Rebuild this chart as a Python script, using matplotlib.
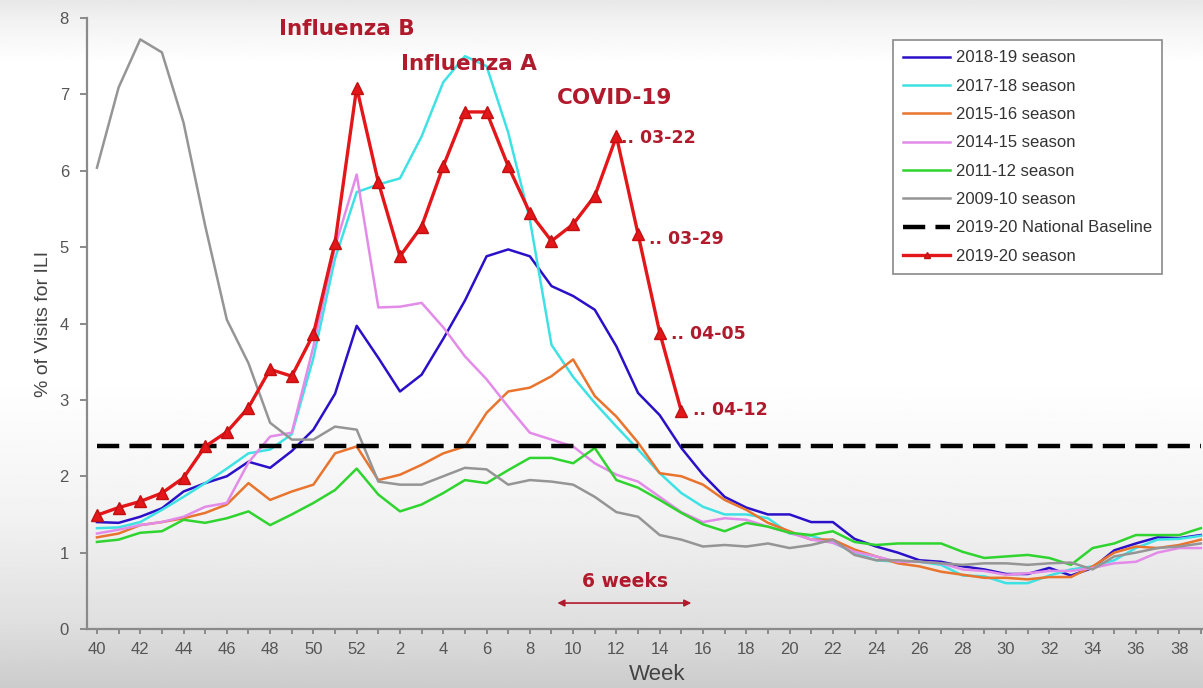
import numpy as np
import matplotlib
matplotlib.use("Agg")
import matplotlib.pyplot as plt

# ---------------- data ----------------
weeks = list(range(40, 53)) + list(range(1, 40))

season_2019_20 = [1.49, 1.59, 1.67, 1.78, 1.98, 2.39, 2.58, 2.9, 3.4, 3.31, 3.86, 5.06, 7.09,
                  5.85, 4.88, 5.27, 6.06, 6.77, 6.77, 6.06, 5.45, 5.08, 5.3, 5.67, 6.45, 5.17, 3.88, 2.85]

season_2018_19 = [1.4, 1.39, 1.47, 1.58, 1.8, 1.91, 2.0, 2.19, 2.11, 2.33, 2.61, 3.08, 3.97,
                  3.55, 3.11, 3.33, 3.8, 4.3, 4.88, 4.97, 4.88, 4.49, 4.36, 4.18, 3.7, 3.09, 2.8, 2.37, 2.02, 1.73,
                  1.59, 1.5, 1.5, 1.4, 1.4, 1.18, 1.08, 1.0, 0.9, 0.88, 0.82, 0.78, 0.72, 0.72, 0.8, 0.7, 0.8,
                  1.03, 1.12, 1.2, 1.19, 1.23]

season_2017_18 = [1.32, 1.33, 1.4, 1.56, 1.73, 1.91, 2.1, 2.3, 2.35, 2.55, 3.55, 4.85, 5.72,
                  5.82, 5.9, 6.45, 7.16, 7.5, 7.37, 6.5, 5.36, 3.72, 3.3, 2.96, 2.65, 2.35, 2.04, 1.78, 1.6, 1.5,
                  1.5, 1.45, 1.25, 1.22, 1.13, 1.0, 0.9, 0.88, 0.88, 0.84, 0.7, 0.69, 0.6, 0.6, 0.7, 0.78, 0.82,
                  0.9, 1.06, 1.17, 1.18, 1.22]

season_2015_16 = [1.2, 1.25, 1.36, 1.4, 1.45, 1.52, 1.63, 1.91, 1.69, 1.8, 1.89, 2.3, 2.39,
                  1.95, 2.02, 2.15, 2.3, 2.39, 2.83, 3.11, 3.16, 3.31, 3.53, 3.05, 2.78, 2.44, 2.04, 2.0, 1.89, 1.69,
                  1.56, 1.39, 1.28, 1.17, 1.17, 1.04, 0.95, 0.86, 0.82, 0.75, 0.71, 0.67, 0.67, 0.65, 0.68, 0.68,
                  0.82, 1.0, 1.08, 1.06, 1.1, 1.17]

season_2014_15 = [1.25, 1.3, 1.36, 1.4, 1.47, 1.6, 1.65, 2.18, 2.52, 2.57, 3.7, 5.0, 5.95,
                  4.21, 4.22, 4.27, 3.95, 3.57, 3.27, 2.91, 2.57, 2.48, 2.39, 2.17, 2.02, 1.93, 1.73, 1.53, 1.4, 1.45,
                  1.43, 1.34, 1.26, 1.17, 1.13, 1.01, 0.95, 0.88, 0.88, 0.86, 0.78, 0.76, 0.71, 0.73, 0.76, 0.76,
                  0.8, 0.86, 0.88, 1.0, 1.06, 1.06]

season_2011_12 = [1.14, 1.17, 1.26, 1.28, 1.43, 1.39, 1.45, 1.54, 1.36, 1.5, 1.65, 1.82, 2.1,
                  1.76, 1.54, 1.63, 1.78, 1.95, 1.91, 2.08, 2.24, 2.24, 2.17, 2.37, 1.95, 1.85, 1.69, 1.52, 1.37, 1.28,
                  1.39, 1.34, 1.26, 1.23, 1.28, 1.14, 1.1, 1.12, 1.12, 1.12, 1.01, 0.93, 0.95, 0.97, 0.93, 0.84,
                  1.06, 1.12, 1.23, 1.23, 1.23, 1.32]

season_2009_10 = [6.04, 7.09, 7.72, 7.55, 6.63, 5.28, 4.05, 3.48, 2.7, 2.48, 2.48, 2.65, 2.61,
                  1.93, 1.89, 1.89, 2.0, 2.11, 2.09, 1.89, 1.95, 1.93, 1.89, 1.73, 1.53, 1.47, 1.23, 1.17, 1.08, 1.1,
                  1.08, 1.12, 1.06, 1.1, 1.17, 0.97, 0.9, 0.9, 0.88, 0.86, 0.84, 0.86, 0.86, 0.84, 0.86, 0.87,
                  0.78, 0.95, 1.0, 1.06, 1.08, 1.12]

national_baseline = 2.4

y_ticks = [0, 1, 2, 3, 4, 5, 6, 7, 8]

peak_labels = ["Influenza B", "Influenza A", "COVID-19"]
date_labels = [".. 03-22", ".. 03-29", ".. 04-05", ".. 04-12"]

# ---------------- figure ----------------
fig = plt.figure(figsize=(12.03, 6.88), dpi=100)

# background gradient (video-frame look)
bg = fig.add_axes([0, 0, 1, 1], zorder=-10)
rows = np.linspace(0, 1, 400)
g = np.interp(rows, [0, 0.03, 0.09, 0.55, 0.75, 0.9, 1.0],
              [0.91, 0.95, 1.0, 1.0, 0.95, 0.88, 0.80])
bg.imshow(np.repeat(g[:, None], 10, axis=1), cmap="gray", vmin=0, vmax=1,
          aspect="auto", extent=[0, 1, 0, 1], origin="upper")
bg.set_axis_off()

ax = fig.add_axes([87 / 1203, 59 / 688, 1 - 87 / 1203, (629 - 18) / 688])
ax.set_facecolor("none")

x_all = np.arange(len(weeks))

series = [
    ("2018-19 season", season_2018_19, "#2a10c8", 1.8),
    ("2017-18 season", season_2017_18, "#3fe2e4", 1.8),
    ("2015-16 season", season_2015_16, "#e8742e", 1.8),
    ("2014-15 season", season_2014_15, "#e38be8", 1.8),
    ("2011-12 season", season_2011_12, "#2fd42f", 1.8),
    ("2009-10 season", season_2009_10, "#959595", 1.8),
]
handles = []
for name, vals, col, lw in series:
    h, = ax.plot(x_all[:len(vals)], vals, color=col, lw=lw, label=name, zorder=3)
    handles.append(h)

hb, = ax.plot(x_all, [national_baseline] * len(x_all), color="black", lw=3.2,
              dashes=(5, 2.3), label="2019-20 National Baseline", zorder=4)
handles.append(hb)

hr, = ax.plot(x_all[:len(season_2019_20)], season_2019_20, color="#e3161a", lw=2.4,
              marker="^", markersize=8.5, markerfacecolor="#e3161a",
              markeredgecolor="#c01010", label="2019-20 season", zorder=5)
handles.append(hr)

ax.set_xlim(-0.46, 51.1)
ax.set_ylim(0, 8)
ax.set_yticks(y_ticks)
ax.set_yticklabels([str(t) for t in y_ticks])
ax.set_xticks(x_all)
ax.set_xticklabels([str(w) if i % 2 == 0 else "" for i, w in enumerate(weeks)])

for s in ["top", "right"]:
    ax.spines[s].set_visible(False)
for s in ["left", "bottom"]:
    ax.spines[s].set_color("#8a8a8a")
    ax.spines[s].set_linewidth(1.6)

ax.tick_params(axis="both", colors="#8a8a8a", width=1.4,
               labelcolor="#555555", labelsize=12)
for lab in ax.get_xticklabels() + ax.get_yticklabels():
    lab.set_family("Liberation Sans")
ax.tick_params(axis="y", pad=8, length=5)
ax.tick_params(axis="x", pad=6, length=3.5)

ax.set_ylabel("% of Visits for ILI", fontsize=14, color="#444444",
              family="Liberation Sans", labelpad=5.5)
ax.set_xlabel("Week", fontsize=16, color="#444444", family="Liberation Sans")
ax.xaxis.set_label_coords(0.511, -0.058)

# legend
leg = ax.legend(handles=handles, loc="upper left", bbox_to_anchor=(893 / 1203, 1 - 40 / 688),
                bbox_transform=fig.transFigure, borderaxespad=0, frameon=True,
                fancybox=False, edgecolor="#8a8a8a", facecolor="white", framealpha=1,
                prop={"family": "Liberation Sans", "size": 12}, labelspacing=0.8,
                handlelength=2.8, handletextpad=0.35, borderpad=0.62, markerscale=0.5,
                numpoints=1)
leg.get_frame().set_linewidth(1.2)
for t in leg.get_texts():
    t.set_color("#333333")

# annotations
ann_col = "#b01a2c"
afont = dict(family="DejaVu Sans", weight="bold", color=ann_col)
ax.text(11.54, 7.86, peak_labels[0], ha="center", va="center", fontsize=15.5, **afont)
ax.text(17.17, 7.40, peak_labels[1], ha="center", va="center", fontsize=15.5, **afont)
ax.text(23.9, 6.95, peak_labels[2], ha="center", va="center", fontsize=15.5, **afont)

date_pos = [(24.2, 6.43), (25.5, 5.11), (26.5, 3.86), (27.55, 2.87)]
for lab, (xx, yy) in zip(date_labels, date_pos):
    ax.text(xx, yy, lab, ha="left", va="center", fontsize=12.5, **afont)

ax.text(24.4, 0.62, "6 weeks", ha="center", va="center", fontsize=13.5, **afont)
ax.annotate("", xy=(21.27, 0.34), xytext=(27.46, 0.34),
            arrowprops=dict(arrowstyle="<|-|>", color=ann_col, lw=1.2,
                            mutation_scale=10, shrinkA=0, shrinkB=0))

fig.savefig("out.png", dpi=100)
